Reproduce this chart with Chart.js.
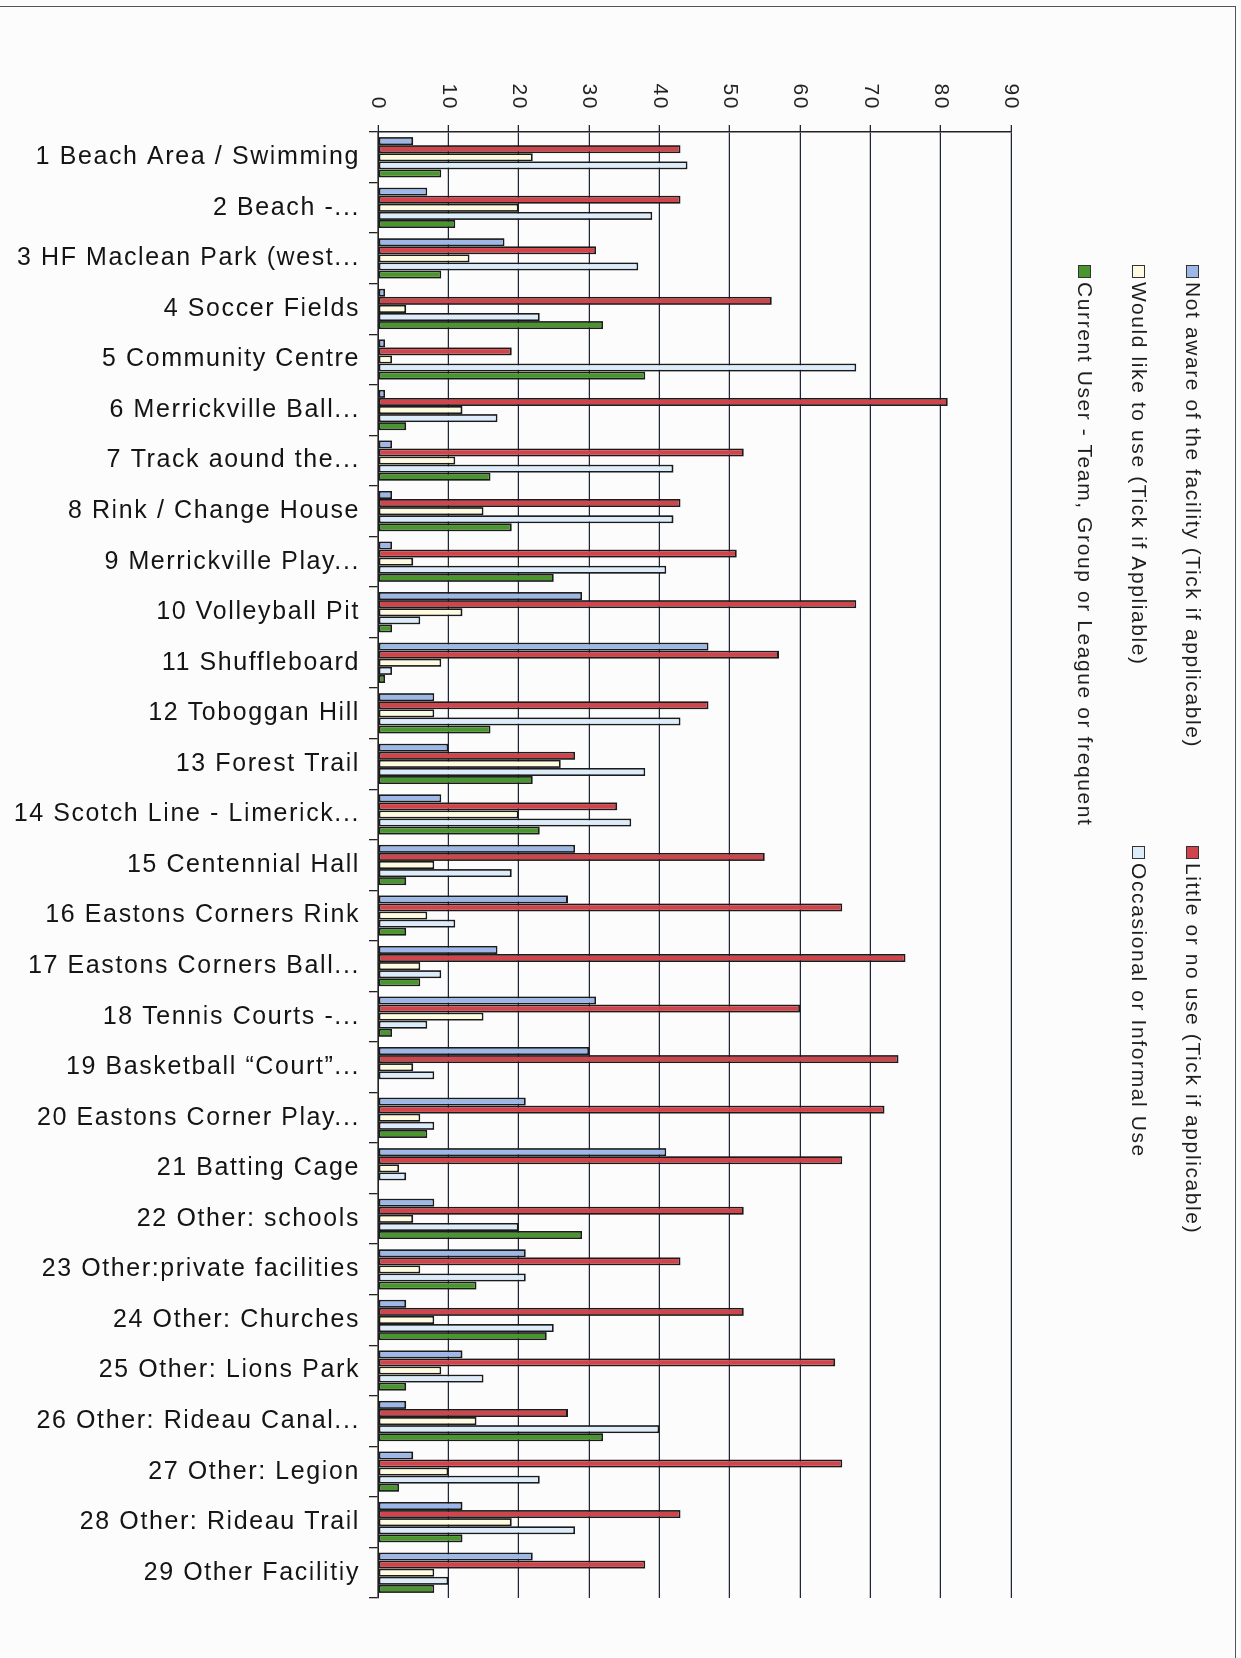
<!DOCTYPE html>
<html>
<head>
<meta charset="utf-8">
<script src="https://cdn.jsdelivr.net/npm/chart.js@4.4.1/dist/chart.umd.min.js"></script>
<style>
  html, body { margin: 0; padding: 0; background: #fcfcfc; overflow: hidden; }
  body { width: 1241px; height: 1658px; position: relative; font-family: 'Liberation Sans', Arial, sans-serif; }
  #frame { position: absolute; left: -2px; top: 6px; width: 1237px; height: 1700px; border-top: 1.5px solid #555; border-right: 1.5px solid #555; }
  /* the chart is laid out as a column chart and turned a quarter clockwise */
  #rot { position: absolute; left: 0; top: 0; width: 1658px; height: 1241px; transform-origin: 0 0; transform: translate(1241px, 0) rotate(90deg); }
  #rot canvas { position: absolute; left: 0; top: 0; }
  #legend { position: absolute; left: 265px; top: 21px; display: grid; grid-template-columns: 581px auto; grid-auto-rows: 54px; color: #1e1e1e; font-size: 21px; letter-spacing: 1.6px; }
  #legend div { display: flex; align-items: center; white-space: nowrap; }
  #legend span { display: inline-block; width: 11px; height: 11px; border: 1px solid #333; margin-right: 4px; }
</style>
</head>
<body>
<div id="frame"></div>
<div id="rot">
  <canvas id="usoInstalaciones" width="1658" height="1241"></canvas>
  <div id="legend"></div>
</div>
<script>
const facilities = [
  '1 Beach Area / Swimming', '2 Beach -...', '3 HF Maclean Park (west...', '4 Soccer Fields',
  '5 Community Centre', '6 Merrickville Ball...', '7 Track aound the...', '8 Rink / Change House',
  '9 Merrickville Play...', '10 Volleyball Pit', '11 Shuffleboard', '12 Toboggan Hill',
  '13 Forest Trail', '14 Scotch Line - Limerick...', '15 Centennial Hall', '16 Eastons Corners Rink',
  '17 Eastons Corners Ball...', '18 Tennis Courts -...', '19 Basketball “Court”...', '20 Eastons Corner Play...',
  '21 Batting Cage', '22 Other: schools', '23 Other:private facilities', '24 Other: Churches',
  '25 Other: Lions Park', '26 Other: Rideau Canal...', '27 Other: Legion', '28 Other: Rideau Trail',
  '29 Other Facilitiy'
];

const seriesNames = [
  'Not aware of the facility (Tick if applicable)',
  'Little or no use (Tick if applicable)',
  'Would like to use (Tick if Appliable)',
  'Occasional or Informal Use',
  'Current User - Team, Group or League or frequent'
];
const seriesColors = ['#9db8e8', '#d0444c', '#fffbe0', '#dcecfa', '#4a962e'];

const notAware   = [5, 7, 18, 1, 1, 1, 2, 2, 2, 29, 47, 8, 10, 9, 28, 27, 17, 31, 30, 21, 41, 8, 21, 4, 12, 4, 5, 12, 22];
const littleUse  = [43, 43, 31, 56, 19, 81, 52, 43, 51, 68, 57, 47, 28, 34, 55, 66, 75, 60, 74, 72, 66, 52, 43, 52, 65, 27, 66, 43, 38];
const wouldLike  = [22, 20, 13, 4, 2, 12, 11, 15, 5, 12, 9, 8, 26, 20, 8, 7, 6, 15, 5, 6, 3, 5, 6, 8, 9, 14, 10, 19, 8];
const occasional = [44, 39, 37, 23, 68, 17, 42, 42, 41, 6, 2, 43, 38, 36, 19, 11, 9, 7, 8, 8, 4, 20, 21, 25, 15, 40, 23, 28, 10];
const current    = [9, 11, 9, 32, 38, 4, 16, 19, 25, 2, 1, 16, 22, 23, 4, 4, 6, 2, 0, 7, 0, 29, 14, 24, 4, 32, 3, 12, 8];

const valueMax = 90;
const valueStep = 10;

const allSeries = [notAware, littleUse, wouldLike, occasional, current];

// wide letter spacing like the scanned original
const spacing = {
  id: 'spacing',
  beforeUpdate(chart) { chart.ctx.letterSpacing = '1.6px'; },
  beforeDraw(chart) { chart.ctx.letterSpacing = '1.6px'; }
};

Chart.defaults.font.family = "'Liberation Sans', Arial, sans-serif";

const ctx = document.getElementById('usoInstalaciones');
new Chart(ctx, {
  type: 'bar',
  data: {
    labels: facilities,
    datasets: allSeries.map((values, i) => ({
      label: seriesNames[i],
      data: values,
      backgroundColor: seriesColors[i],
      borderColor: '#1b1b1b',
      borderWidth: 1.8,
      borderSkipped: false,
      categoryPercentage: 0.8,
      barPercentage: 1.0
    }))
  },
  options: {
    responsive: false,
    animation: false,
    layout: { padding: { top: 230, right: 60, left: 0, bottom: 0 } },
    plugins: {
      legend: { display: false },
      tooltip: { enabled: false }
    },
    scales: {
      x: {
        grid: { drawOnChartArea: false, drawTicks: true, tickLength: 9, color: '#222', lineWidth: 1.3 },
        border: { display: true, color: '#222', width: 1.5 },
        ticks: { autoSkip: false, minRotation: 90, maxRotation: 90, padding: 9, color: '#141414', font: { size: 25 } },
        afterFit(scale) { scale.height = 378; }
      },
      y: {
        min: 0,
        max: valueMax,
        ticks: { stepSize: valueStep, padding: 15, color: '#222', font: { size: 21 } },
        grid: { color: '#20263a', lineWidth: 1.3, tickLength: 7 },
        border: { display: true, color: '#222', width: 1.5 },
        afterFit(scale) { scale.width = 132; }
      }
    }
  },
  plugins: [spacing]
});

// Leyenda
const legend = document.getElementById('legend');
seriesNames.forEach((name, i) => {
  const item = document.createElement('div');
  const box = document.createElement('span');
  box.style.background = seriesColors[i];
  item.appendChild(box);
  item.appendChild(document.createTextNode(name));
  legend.appendChild(item);
});
</script>
</body>
</html>
